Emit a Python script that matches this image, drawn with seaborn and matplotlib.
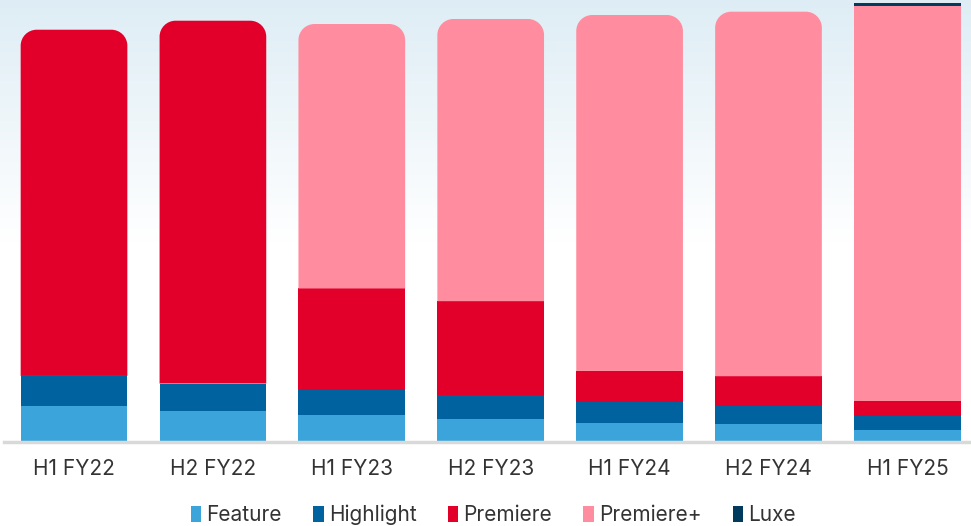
import numpy as np
import pandas as pd
import matplotlib
matplotlib.use("Agg")
import matplotlib.pyplot as plt
import seaborn as sns
from matplotlib.path import Path
from matplotlib.patches import PathPatch, Patch

# Half-year periods and the mix of each tier (stacked bottom to top)
periods = ["H1 FY22", "H2 FY22", "H1 FY23", "H2 FY23", "H1 FY24", "H2 FY24", "H1 FY25"]
feature = [35.7, 30.7, 26.7, 23.0, 19.4, 17.7, 12.4]
highlight = [30.3, 27.7, 25.7, 24.4, 21.0, 18.7, 14.0]
premiere = [346.0, 362.6, 101.0, 93.3, 30.6, 29.3, 14.3]
premiere_plus = [0.0, 0.0, 264.3, 282.0, 355.7, 364.3, 395.0]
luxe = [0.0, 0.0, 0.0, 0.0, 0.0, 0.0, 3.0]

series = ["Feature", "Highlight", "Premiere", "Premiere+", "Luxe"]
values = [feature, highlight, premiere, premiere_plus, luxe]
colors = ["#3BA4DA", "#00629E", "#E2002B", "#FF8C9F", "#003A5C"]

sns.set_theme(style="white")
plt.rcParams["font.family"] = ["Inter", "DejaVu Sans"]

W, H = 971, 526
fig = plt.figure(figsize=(W / 100, H / 100), dpi=100)

# soft blue wash fading into white at the top of the figure
bg = fig.add_axes([0, 0, 1, 1], zorder=-5)
grad = np.linspace(0, 1, 526)
fade = np.clip(1 - grad / 0.46, 0, 1)[:, None]
top = np.array([222, 237, 245]) / 255.0
img = np.ones((526, 1, 3)) * (1 - fade[..., None]) + top * fade[..., None]
bg.imshow(img, aspect="auto", extent=[0, 1, 0, 1], origin="upper")
bg.set_axis_off()

ax = fig.add_axes([4 / W, 1 - 442 / H, 1 - 4 / W, 442 / H])
ax.patch.set_alpha(0)

df = pd.DataFrame({"period": periods})
for name, vals in zip(series, values):
    df[name] = vals

bottoms = np.zeros(len(periods))
bar_width = 0.768
for name, vals, col in zip(series, values, colors):
    sns.barplot(data=df, x="period", y=name, bottom=bottoms.copy(), color=col,
                width=bar_width, ax=ax, saturation=1, linewidth=0, edgecolor=col)
    bottoms += np.array(vals)

ax.set_xlim(-0.504, 6.458)
ax.set_ylim(0, 441.7)

# round the top corners of the uppermost segment of each column
fig.canvas.draw()
bbox = ax.get_window_extent()
radius_px = 16
rx = radius_px / bbox.width * (ax.get_xlim()[1] - ax.get_xlim()[0])
ry = radius_px / bbox.height * (ax.get_ylim()[1] - ax.get_ylim()[0])
k = 0.5523
n = len(periods)
patches = ax.patches
for i in range(n):
    top_patch, top_idx = None, None
    for s in range(len(series)):
        p = patches[s * n + i]
        if p.get_height() > 0:
            top_patch, top_idx = p, s
    if series[top_idx] == "Luxe":
        continue
    x0, y0 = top_patch.get_x(), top_patch.get_y()
    w, h = top_patch.get_width(), top_patch.get_height()
    x1, y1 = x0 + w, y0 + h
    verts = [
        (x0, y0), (x0, y1 - ry),
        (x0, y1 - ry + k * ry), (x0 + rx - k * rx, y1), (x0 + rx, y1),
        (x1 - rx, y1),
        (x1 - rx + k * rx, y1), (x1, y1 - ry + k * ry), (x1, y1 - ry),
        (x1, y0), (x0, y0),
    ]
    codes = [Path.MOVETO, Path.LINETO,
             Path.CURVE4, Path.CURVE4, Path.CURVE4,
             Path.LINETO,
             Path.CURVE4, Path.CURVE4, Path.CURVE4,
             Path.LINETO, Path.CLOSEPOLY]
    top_patch.set_visible(False)
    ax.add_patch(PathPatch(Path(verts, codes), facecolor=colors[top_idx],
                           edgecolor="none", lw=0))

sns.despine(ax=ax, left=True, top=True, right=True)
ax.spines["bottom"].set_color("#D9D9D9")
ax.spines["bottom"].set_linewidth(2.5)
ax.set_yticks([])
ax.set_xlabel("")
ax.set_ylabel("")
ax.tick_params(axis="x", length=0, pad=12, labelsize=15, labelcolor="#333333")

handles = [Patch(facecolor=c, edgecolor="none", label=s) for s, c in zip(series, colors)]
fig.legend(handles=handles, loc="center", bbox_to_anchor=(493.5 / W, 1 - 515 / H), ncol=5,
           frameon=False, handlelength=0.5, handleheight=0.75, handletextpad=0.25,
           columnspacing=1.5, fontsize=15, labelcolor="#333333")

fig.savefig("out.png", dpi=100)
